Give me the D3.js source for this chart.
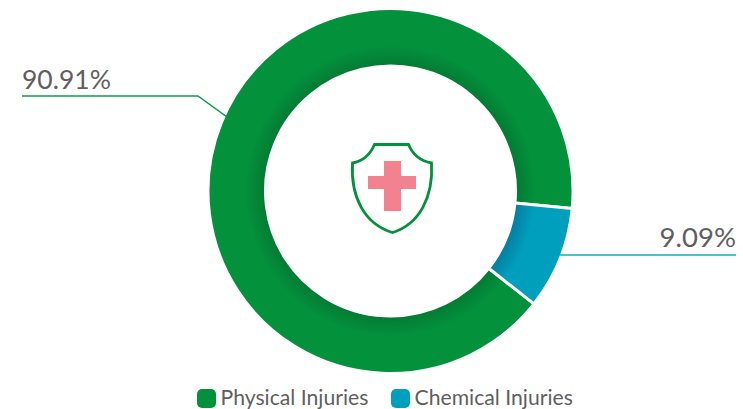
<!DOCTYPE html>
<html lang="en">
  <head>
    <meta charset="UTF-8" />
    <title>Injuries</title>
    <script src="https://d3js.org/d3.v7.min.js"></script>
    <style>
      * {
        box-sizing: border-box;
        margin: 0;
        padding: 0;
      }
      body {
        background: #fff;
        overflow: hidden;
      }
      text {
        font-family: Lato, "Open Sans", sans-serif;
        fill: #5f5f5f;
      }
    </style>
  </head>
  <body>
    <svg id="chart" width="743" height="409"></svg>
    <script>
      // data
      const categories = ["Physical Injuries", "Chemical Injuries"];
      const values = [90.91, 9.09];
      const valueLabels = ["90.91%", "9.09%"];
      const colors = ["#03913c", "#009fbe"];
      const darkColors = ["#037a33", "#057c9f"];

      const svg = d3.select("#chart");
      const cx = 390.5;
      const cy = 191;
      const outer = 182.5;
      const inner = 125;
      const startDeg = 128.2;

      const defs = svg.append("defs");
      colors.forEach((c, i) => {
        // dark inner shadow on the ring
        const g = defs
          .append("radialGradient")
          .attr("id", "ring" + i)
          .attr("gradientUnits", "userSpaceOnUse")
          .attr("cx", 0)
          .attr("cy", 0)
          .attr("r", outer);
        g.append("stop").attr("offset", inner / outer).attr("stop-color", darkColors[i]);
        g.append("stop").attr("offset", (inner + 20) / outer).attr("stop-color", c);
        g.append("stop").attr("offset", 1).attr("stop-color", c);
      });

      const pie = d3
        .pie()
        .sort(null)
        .startAngle((startDeg * Math.PI) / 180)
        .endAngle((startDeg * Math.PI) / 180 + 2 * Math.PI);
      const arc = d3.arc().innerRadius(inner).outerRadius(outer);
      const slices = pie(values);

      const ring = svg.append("g").attr("transform", `translate(${cx},${cy})`);
      ring
        .selectAll("path")
        .data(slices)
        .enter()
        .append("path")
        .attr("d", arc)
        .attr("fill", (d, i) => `url(#ring${i})`)
        .attr("stroke", "#fff")
        .attr("stroke-width", 3)
        .attr("stroke-linejoin", "round");

      // leader lines start on the outer edge, a bit off the slice middle
      const leaderOffset = [2.6, -1.3];
      const line = d3.line();
      const leaders = slices.map((d, i) => {
        const mid = (d.startAngle + d.endAngle) / 2 + (leaderOffset[i] * Math.PI) / 180;
        const x = cx + Math.sin(mid) * (outer - 2);
        const y = cy - Math.cos(mid) * (outer - 2);
        return i === 0
          ? [[x, y], [198, 96], [22, 96]]
          : [[x, 255], [736, 255]];
      });
      svg
        .selectAll(".leader")
        .data(leaders)
        .enter()
        .append("path")
        .attr("class", "leader")
        .attr("d", line)
        .attr("fill", "none")
        .attr("stroke", (d, i) => (i === 0 ? "#149a4c" : "#14a8c5"))
        .attr("stroke-width", 1.4);

      svg
        .selectAll(".val")
        .data(valueLabels)
        .enter()
        .append("text")
        .attr("class", "val")
        .attr("x", (d, i) => (i === 0 ? 22 : 736))
        .attr("y", (d, i) => (i === 0 ? 89 : 247))
        .attr("text-anchor", (d, i) => (i === 0 ? "start" : "end"))
        .attr("font-size", (d, i) => (i === 0 ? 26.5 : 27.5))
        .text((d) => d);

      // shield icon in the middle
      const icon = svg.append("g").attr("transform", `translate(${cx},${cy})`);
      icon
        .append("path")
        .attr(
          "d",
          "M-16,-46.5 L18,-46.5 C22,-37 30,-30 41,-28 C43,6 29,33 2,41.5 C-26,33 -40,6 -38,-28 C-27,-30 -20,-37 -16,-46.5 Z"
        )
        .attr("fill", "#fff")
        .attr("stroke", "#03913c")
        .attr("stroke-width", 2.8);
      icon
        .append("path")
        .attr(
          "d",
          "M-6.5,-30 H10.5 V-15 H25.5 V-2 H10.5 V20 H-6.5 V-2 H-22.5 V-15 H-6.5 Z"
        )
        .attr("fill", "#f2828f");

      // legend
      const legendX = [197, 391];
      const legend = svg
        .selectAll(".legend")
        .data(categories)
        .enter()
        .append("g")
        .attr("class", "legend")
        .attr("transform", (d, i) => `translate(${legendX[i]},389)`);
      legend
        .append("rect")
        .attr("width", 19)
        .attr("height", 19)
        .attr("rx", 5)
        .attr("fill", (d, i) => colors[i]);
      legend
        .append("text")
        .attr("x", 23.5)
        .attr("y", 16)
        .attr("font-size", 21.2)
        .text((d) => d);
    </script>
  </body>
</html>
